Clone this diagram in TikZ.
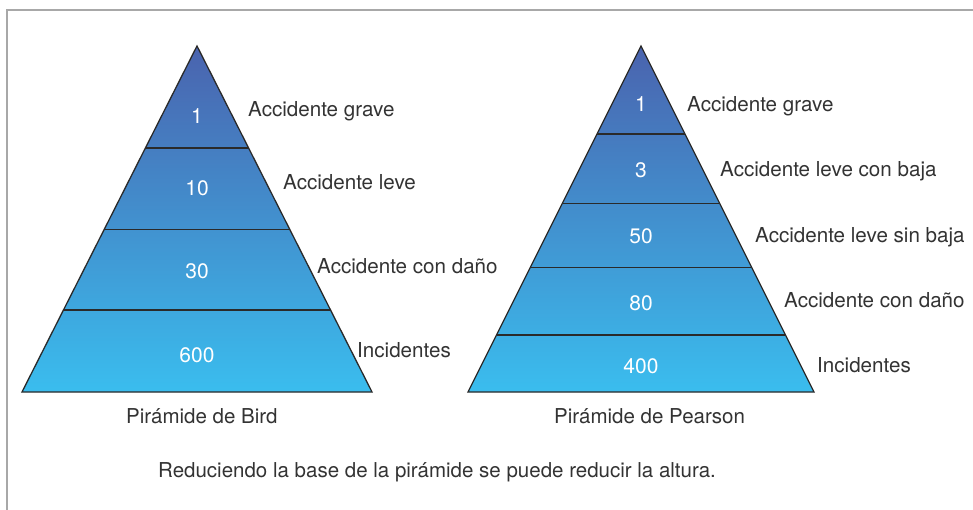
\documentclass[tikz,border=0pt]{standalone}
\usepackage{fontspec}
\setmainfont{TeX Gyre Heros}
\usetikzlibrary{calc}
\definecolor{pytop}{HTML}{4A63AE}
\definecolor{pybot}{HTML}{3ABDEE}
\definecolor{txtc}{HTML}{333333}
\definecolor{framec}{HTML}{A8A8A8}
\definecolor{edgec}{HTML}{2A2A2A}
\begin{document}
\begin{tikzpicture}[x=1pt,y=-1pt,
  lbl/.style={anchor=base west, text=txtc, inner sep=0pt, font=\fontsize{20.6}{24}\selectfont},
  num/.style={anchor=base, text=white, inner sep=0pt, font=\fontsize{21}{25}\selectfont},
  ttl/.style={anchor=base west, text=txtc, inner sep=0pt, font=\fontsize{20.5}{24}\selectfont},
  outline/.style={draw=edgec, line width=1.3pt, line join=miter},
  divider/.style={draw=edgec, line width=1.3pt}]
\useasboundingbox (0,0) rectangle (973,510);
\draw[framec, line width=2pt] (7,510) -- (7,10) -- (973,10);

% Bird pyramid
\coordinate (BA) at (197,46);
\coordinate (BL) at (22,392);
\coordinate (BR) at (372,392);
\shade[top color=pytop, bottom color=pybot] (BA) -- (BL) -- (BR) -- cycle;
\foreach \t in {0.2948,0.5298,0.7630}
  \draw[divider] ($(BA)!\t!(BL)$) -- ($(BA)!\t!(BR)$);
\draw[outline] (BA) -- (BL) -- (BR) -- cycle;

\node[num] (b1) at (197,124) {1};
\node[num] (b2) at (197,196) {10};
\node[num] (b3) at (197,279) {30};
\node[num] (b4) at (197,362) {600};

\node[lbl] (bl1) at (248,117) {Accidente grave};
\node[lbl] (bl2) at (283,190) {Accidente leve};
\node[lbl] (bl3) at (317,273) {Accidente con daño};
\node[lbl] (bl4) at (357,357) {Incidentes};

\node[ttl] (bt) at (126,423) {Pirámide de Bird};

% Pearson pyramid
\coordinate (PA) at (641,46);
\coordinate (PL) at (468,392);
\coordinate (PR) at (814,392);
\shade[top color=pytop, bottom color=pybot] (PA) -- (PL) -- (PR) -- cycle;
\foreach \t in {0.2543,0.4546,0.6408,0.8353}
  \draw[divider] ($(PA)!\t!(PL)$) -- ($(PA)!\t!(PR)$);
\draw[outline] (PA) -- (PL) -- (PR) -- cycle;

\node[num] (p1) at (641,112) {1};
\node[num] (p2) at (641,178) {3};
\node[num] (p3) at (641,244) {50};
\node[num] (p4) at (641,310) {80};
\node[num] (p5) at (641,373) {400};

\node[lbl] (pl1) at (687,112) {Accidente grave};
\node[lbl] (pl2) at (720,177) {Accidente leve con baja};
\node[lbl] (pl3) at (755,243) {Accidente leve sin baja};
\node[lbl] (pl4) at (784,307) {Accidente con daño};
\node[lbl] (pl5) at (817,372) {Incidentes};

\node[ttl] (pt) at (554,423) {Pirámide de Pearson};

\node[ttl] (cap) at (158,477) {Reduciendo la base de la pirámide se puede reducir la altura.};
\end{tikzpicture}
\end{document}
